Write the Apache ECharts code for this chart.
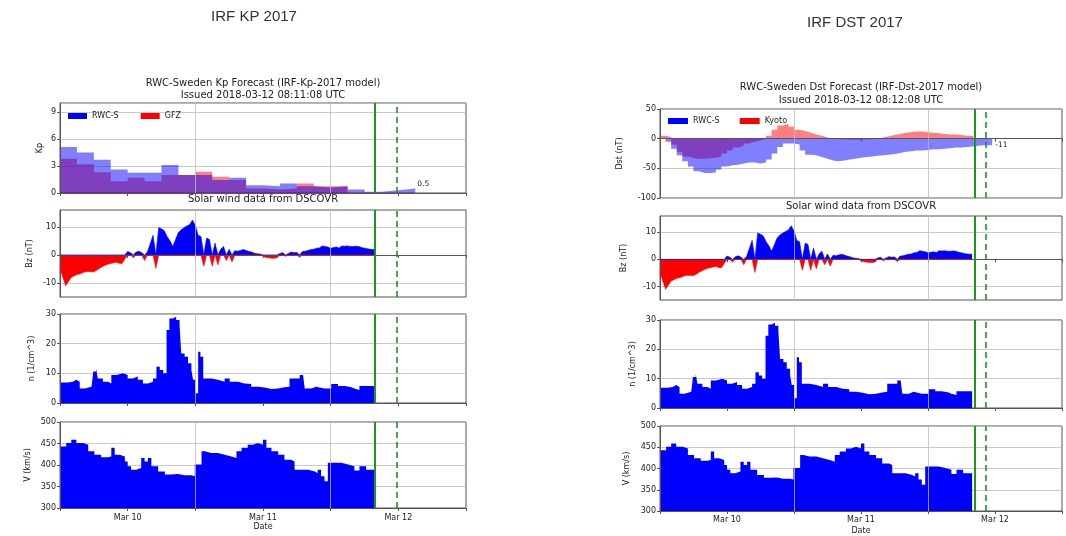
<!DOCTYPE html>
<html><head><meta charset="utf-8">
<script src="https://cdn.jsdelivr.net/npm/echarts@6/dist/echarts.min.js"></script>
<style>html,body{margin:0;padding:0;background:#fff}#c{width:1066px;height:536px}</style>
</head><body><div id="c"></div>
<script>
// ---------------- DATA (hours since Mar 9 12:00 UTC) ----------------
const dateTickHours = [12, 36, 60];
const dateTickLabels = ['Mar 10', 'Mar 11', 'Mar 12'];
const vGridHours = [24, 48];

const kpBinHours = 3;
const kpRWCS = [5.1, 4.5, 3.7, 2.6, 2.25, 2.25, 3.1, 2.0, 2.0, 1.45, 1.7, 0.85, 0.75, 1.05, 0.75, 0.6, 0.75, 0.4, 0.15, 0.3, 0.5];
const kpGFZ  = [3.8, 3.2, 2.3, 1.3, 1.7, 1.3, 2.0, 2.0, 2.35, 1.8, 1.45, 0.5, 0.4, 0.5, 1.05, 0.75, 0.75];
const kpLastLabel = '0.5';

const dstRWCS = [[0,0],[1,-5],[2,-17],[3,-28],[4,-38],[5,-47],[6,-55],[7,-58],[8,-58],[9,-57],[10,-52],[11,-47],[12,-45],[13,-44],[14,-42],[15,-40],[16,-40],[17,-42],[18,-40],[19,-35],[20,-25],[21,-14],[22,-8],[23,-8],[24,-10],[25,-20],[26,-27],[27,-28],[28,-31],[29,-34],[30,-37],[31,-38],[32,-37],[33,-35],[34,-34],[35,-32],[36,-31],[37,-30],[38,-29],[39,-28],[40,-27],[41,-26],[42,-24],[43,-22],[44,-21],[45,-20],[46,-20],[47,-19],[48,-18],[49,-18],[50,-17],[51,-16],[52,-15],[53,-15],[54,-14],[55,-13],[56,-12],[57,-11],[58,-11],[59.5,-11]];
const dstKyoto = [[0,5],[1,3],[2,-10],[3,-22],[4,-30],[5,-33],[6,-34],[7,-34],[8,-33],[9,-32],[10,-30],[11,-25],[12,-20],[13,-15],[14,-12],[15,-8],[16,-5],[17,-3],[18,0],[19,5],[20,15],[21,22],[22,25],[23,20],[24,15],[25,13],[26,10],[27,7],[28,5],[29,2],[30,0],[31,-1],[32,-1],[33,-2],[34,-2],[35,-2],[36,-1],[37,-1],[38,0],[39,2],[40,4],[41,6],[42,8],[43,10],[44,11],[45,12],[46,12],[47,11],[48,10],[49,9],[50,8],[51,7],[52,7],[53,6],[54,5],[55,5],[56,4],[56.3,4]];
const dstLastLabel = '-11';

const bz = [[0,-5],[0.5,-8],[1,-11],[1.5,-9.5],[2,-8],[2.5,-7.5],[3,-7],[3.5,-6.8],[4,-6.4],[4.5,-6],[5,-5.9],[5.5,-6],[6,-6],[6.5,-5.5],[7,-4.8],[7.5,-4.2],[8,-3.7],[8.5,-3.3],[9,-3.1],[9.5,-2.8],[10,-2.6],[10.5,-3],[11,-3.1],[11.5,-1.5],[12,1.2],[12.5,0.8],[13,-1],[13.5,1],[14,1.3],[14.5,0.8],[15,-2],[15.5,1],[16,4],[16.5,7],[17,-4.8],[17.5,9.7],[18,9.3],[18.5,8.6],[19,6.5],[19.5,5],[20,3],[20.5,5.5],[21,8],[21.5,9],[22,9.7],[22.5,10.3],[23,10.8],[23.5,12.4],[24,10.5],[24.5,7],[25,6.5],[25.5,-4],[26,6],[26.5,5.5],[27,-4],[27.5,4.2],[28,-3.5],[28.5,2],[29,3],[29.5,-2],[30,2],[30.5,-2.5],[31,1.5],[31.5,1.3],[32,1.6],[32.5,1.9],[33,1.6],[33.5,1.2],[34,1],[34.5,0.6],[35,0.4],[35.5,0.3],[36,-0.5],[36.5,-0.9],[37,-1],[37.5,-1.2],[38,-1.2],[38.5,-1],[39,0.5],[39.5,0.8],[40,-0.5],[40.5,0.5],[41,1],[41.5,0.8],[42,0.9],[42.5,-0.8],[43,1.2],[43.5,1.3],[44,1.6],[44.5,1.9],[45,2],[45.5,2.4],[46,2.5],[46.5,3.2],[47,3],[47.5,2.8],[48,2.4],[48.5,2.6],[49,2.8],[49.5,2.5],[50,3.2],[50.5,3.1],[51,3.2],[51.5,3],[52,3],[52.5,3.1],[53,3],[53.5,2.6],[54,2.4],[54.5,2.2],[55,2],[55.5,1.9],[55.9,1.9]];

const density = [[0,6.9],[1.4,7.2],[2.3,7.8],[2.9,7.2],[3.5,4.9],[4.4,5.5],[5.6,6.1],[5.9,10.6],[6.4,11.7],[6.7,8.3],[7.6,7.2],[8.5,6.6],[9.1,9.4],[10,10],[11.2,9.4],[12,8.3],[12.9,8.9],[13.8,7.8],[14.7,6.6],[15.6,7.2],[16.5,8.3],[17.1,12.2],[17.7,11.1],[18.3,10],[18.9,24.6],[19.4,28.5],[20,29.1],[20.6,28],[21.2,26.3],[21.5,16.7],[22.1,15.6],[22.7,13.4],[23.3,11.1],[23.6,7.8],[24,3.3],[24.5,17.3],[24.9,15.6],[25.4,8.3],[25.9,8.3],[26.8,7.8],[28,7.2],[29.2,8.3],[30.1,7.2],[31.6,6.6],[32.7,6.4],[33.9,5.5],[35.1,5.2],[36.3,4.7],[37.5,4.9],[38.7,5.3],[39.8,5.5],[40.7,8.3],[41.6,8.3],[42.5,9.4],[43.1,8.9],[43.4,4.9],[44.6,5.5],[45.4,4.9],[46.9,4.9],[48.1,6.4],[49.3,5.7],[50.5,5.3],[51.7,4.9],[52.2,4.4],[53.1,5.7],[54.3,5.7],[55.9,5.7]];

const speed = [[0,443],[1.1,451],[2,459],[2.9,451],[4.1,447],[5,432],[6.1,424],[7.3,418],[8.5,420],[9.1,440],[9.7,424],[10.6,420],[11.5,408],[12,397],[12.6,389],[13.5,393],[14.4,416],[15,408],[15.6,416],[16.2,397],[17.4,385],[18.6,378],[19.7,379],[20.9,376],[22.1,376],[23.3,374],[23.9,401],[25.1,432],[25.7,428],[26.8,428],[28,424],[29.2,420],[30.4,416],[31.3,432],[32.2,440],[33.3,447],[34.2,451],[35.1,447],[36,459],[36.6,440],[37.5,432],[38.7,424],[39.8,412],[41,408],[41.6,389],[42.8,389],[44,385],[45.2,381],[45.7,389],[46.3,374],[46.9,362],[47.5,405],[48.7,405],[49.9,401],[51.1,397],[52.2,387],[53.1,397],[54.3,389],[55.9,389]];

// ---------------- LAYOUT ----------------
const sides = [
  { left: 60, width: 406, tops: [103, 210, 314, 422], heights: [90, 87, 89, 86], solid: 55.9, dashed: 59.8,
    nameGaps: [16, 26, 24, 28], labelMargin: 6, dateGap: 15 },
  { left: 660, width: 402, tops: [109, 216, 320, 426], heights: [89, 84, 88, 87], solid: 56.3, dashed: 58.3,
    nameGaps: [36, 32, 23, 29], labelMargin: 5, dateGap: 16 }
];
const FONT = 'DejaVu Sans';
const TXT = '#222';
const GRIDC = '#bdbdbd';
const FRAME = '#555';
const BLUE = '#0000ff', RED = '#ff0000';
const BLUE_A = 'rgba(0,0,255,0.5)', RED_A = 'rgba(255,0,0,0.5)';

function kpSteps(vals) {
  const pts = vals.map((v, i) => [i * kpBinHours, v]);
  pts.push([vals.length * kpBinHours, vals[vals.length - 1]]);
  return pts;
}

const grids = [], xAxes = [], yAxes = [], series = [];

const yDefs = [
  [ {name: 'Kp', min: 0, max: 10, interval: 3},
    {name: 'Bz (nT)', min: -15, max: 16, custom: [-10, 0, 10]},
    {name: 'n (1/cm^3)', min: 0, max: 30, interval: 10},
    {name: 'V (km/s)', min: 300, max: 500, interval: 50} ],
  [ {name: 'Dst (nT)', min: -100, max: 50, interval: 50},
    {name: 'Bz (nT)', min: -15, max: 16, custom: [-10, 0, 10]},
    {name: 'n (1/cm^3)', min: 0, max: 30, interval: 10},
    {name: 'V (km/s)', min: 300, max: 500, interval: 50} ]
];

function markLines(side) {
  return {
    silent: true, symbol: ['none', 'none'], label: {show: false}, animation: false,
    data: [
      ...vGridHours.map(h => ({xAxis: h, lineStyle: {color: GRIDC, width: 0.8, type: 'solid'}})),
      {xAxis: side.solid, lineStyle: {color: '#1a9a1a', width: 2, type: 'solid'}},
      {xAxis: side.dashed, lineStyle: {color: '#1a9a1a', width: 1.6, type: [6, 4]}}
    ]
  };
}

sides.forEach((side, s) => {
  for (let r = 0; r < 4; r++) {
    const g = s * 4 + r;
    grids.push({left: side.left, width: side.width, top: side.tops[r], height: side.heights[r],
      show: true, borderColor: FRAME, borderWidth: 1, containLabel: false});
    xAxes.push({
      gridIndex: g, type: 'value', min: 0, max: 72, interval: 12, z: 3,
      axisLine: {show: true, lineStyle: {color: FRAME, width: 1}},
      axisTick: {show: true, length: 3, lineStyle: {color: FRAME}},
      splitLine: {show: false},
      axisLabel: {show: r === 3, margin: side.labelMargin, fontSize: 8, color: TXT, fontFamily: FONT,
        formatter: v => { const i = dateTickHours.indexOf(v); return i >= 0 ? dateTickLabels[i] : ''; }},
      name: r === 3 ? 'Date' : '', nameLocation: 'middle', nameGap: side.dateGap,
      nameTextStyle: {fontSize: 8, color: TXT, fontFamily: FONT}
    });
    const d = yDefs[s][r];
    const y = {
      gridIndex: g, type: 'value', min: d.min, max: d.max, z: 3,
      axisLine: {show: true, lineStyle: {color: FRAME, width: 1}},
      axisTick: {show: true, length: 3, lineStyle: {color: FRAME}},
      splitLine: {show: true, lineStyle: {color: GRIDC, width: 0.8}},
      axisLabel: {fontSize: 8, color: TXT, fontFamily: FONT, margin: 4, showMaxLabel: d.interval ? (d.max % d.interval === 0) : true},
      name: d.name, nameLocation: 'middle', nameRotate: 90, nameGap: side.nameGaps[r],
      nameTextStyle: {fontSize: 8, color: TXT, fontFamily: FONT}
    };
    if (d.interval) y.interval = d.interval;
    if (d.custom) { y.axisTick.customValues = d.custom; y.axisLabel.customValues = d.custom; }
    yAxes.push(y);
  }
});

function area(name, g, data, fill, color, extra) {
  return Object.assign({
    type: 'line', name: name, xAxisIndex: g, yAxisIndex: g, data: data,
    symbol: 'none', showSymbol: false, silent: true, animation: false,
    color: color, itemStyle: {color: color},
    lineStyle: {width: 0, color: color}, areaStyle: {color: fill, opacity: 1}
  }, extra || {});
}

const bzPos = bz.map(([t, v]) => [t, Math.max(v, 0)]);
const bzNeg = bz.map(([t, v]) => [t, Math.min(v, 0)]);

sides.forEach((side, s) => {
  const g0 = s * 4;
  // index panel
  if (s === 0) {
    series.push(area('GFZ', g0, kpSteps(kpGFZ), RED_A, RED, {step: 'end'}));
    series.push(area('RWC-S', g0, kpSteps(kpRWCS), BLUE_A, BLUE, {step: 'end',
      endLabel: {show: true, formatter: kpLastLabel, fontSize: 7.5, color: TXT, fontFamily: FONT, distance: 2, offset: [0, -4]},
      markLine: markLines(side)}));
  } else {
    series.push(area('Kyoto', g0, dstKyoto, RED_A, RED, {step: 'end'}));
    series.push(area('RWC-S', g0, dstRWCS, BLUE_A, BLUE, {step: 'end',
      endLabel: {show: true, formatter: dstLastLabel, fontSize: 7.5, color: TXT, fontFamily: FONT, distance: 3},
      markLine: markLines(side)}));
  }
  // Bz
  series.push(area('Bz+', g0 + 1, bzPos, BLUE, BLUE, {lineStyle: {width: 0.6, color: BLUE}}));
  series.push(area('Bz-', g0 + 1, bzNeg, RED, RED, {lineStyle: {width: 0.6, color: RED}, markLine: markLines(side)}));
  // density
  series.push(area('n', g0 + 2, density, BLUE, BLUE, {step: 'end', markLine: markLines(side)}));
  // speed
  series.push(area('V', g0 + 3, speed, BLUE, BLUE, {step: 'end', areaStyle: {color: BLUE, opacity: 1, origin: 'start'}, markLine: markLines(side)}));
});

const titleStyle = {fontFamily: FONT, fontSize: 10, fontWeight: 'normal', color: TXT, lineHeight: 12};
const option = {
  animation: false,
  backgroundColor: '#ffffff',
  textStyle: {fontFamily: FONT},
  title: [
    {text: 'IRF KP 2017', left: 254, top: 9, textAlign: 'center', padding: 0,
      textStyle: {fontFamily: 'Liberation Sans', fontSize: 15, fontWeight: 'normal', color: '#333'}},
    {text: 'IRF DST 2017', left: 855, top: 15, textAlign: 'center', padding: 0,
      textStyle: {fontFamily: 'Liberation Sans', fontSize: 15, fontWeight: 'normal', color: '#333'}},
    {text: 'RWC-Sweden Kp Forecast (IRF-Kp-2017 model)\nIssued 2018-03-12 08:11:08 UTC', left: 263, top: 77, textAlign: 'center', padding: 0,
      textStyle: titleStyle},
    {text: 'RWC-Sweden Dst Forecast (IRF-Dst-2017 model)\nIssued 2018-03-12 08:12:08 UTC', left: 861, top: 81, textAlign: 'center', padding: 0,
      textStyle: Object.assign({}, titleStyle, {lineHeight: 13})},
    {text: 'Solar wind data from DSCOVR', left: 263, top: 193, textAlign: 'center', padding: 0, textStyle: titleStyle},
    {text: 'Solar wind data from DSCOVR', left: 861, top: 200, textAlign: 'center', padding: 0, textStyle: titleStyle}
  ],
  legend: [
    {left: 68, top: 112, padding: 0, itemWidth: 19, itemHeight: 6, itemGap: 22, selectedMode: false,
      textStyle: {fontSize: 8, color: TXT, fontFamily: FONT},
      data: [{name: 'RWC-S', icon: 'rect', itemStyle: {color: BLUE}}, {name: 'GFZ', icon: 'rect', itemStyle: {color: RED}}]},
    {left: 668, top: 117, padding: 0, itemWidth: 20, itemHeight: 6, itemGap: 20, selectedMode: false,
      textStyle: {fontSize: 8, color: TXT, fontFamily: FONT},
      data: [{name: 'RWC-S', icon: 'rect', itemStyle: {color: BLUE}}, {name: 'Kyoto', icon: 'rect', itemStyle: {color: RED}}]}
  ],
  grid: grids,
  xAxis: xAxes,
  yAxis: yAxes,
  series: series
};
const chart = echarts.init(document.getElementById('c'), null, {renderer: 'canvas'});
chart.setOption(option);
</script>
</body></html>
